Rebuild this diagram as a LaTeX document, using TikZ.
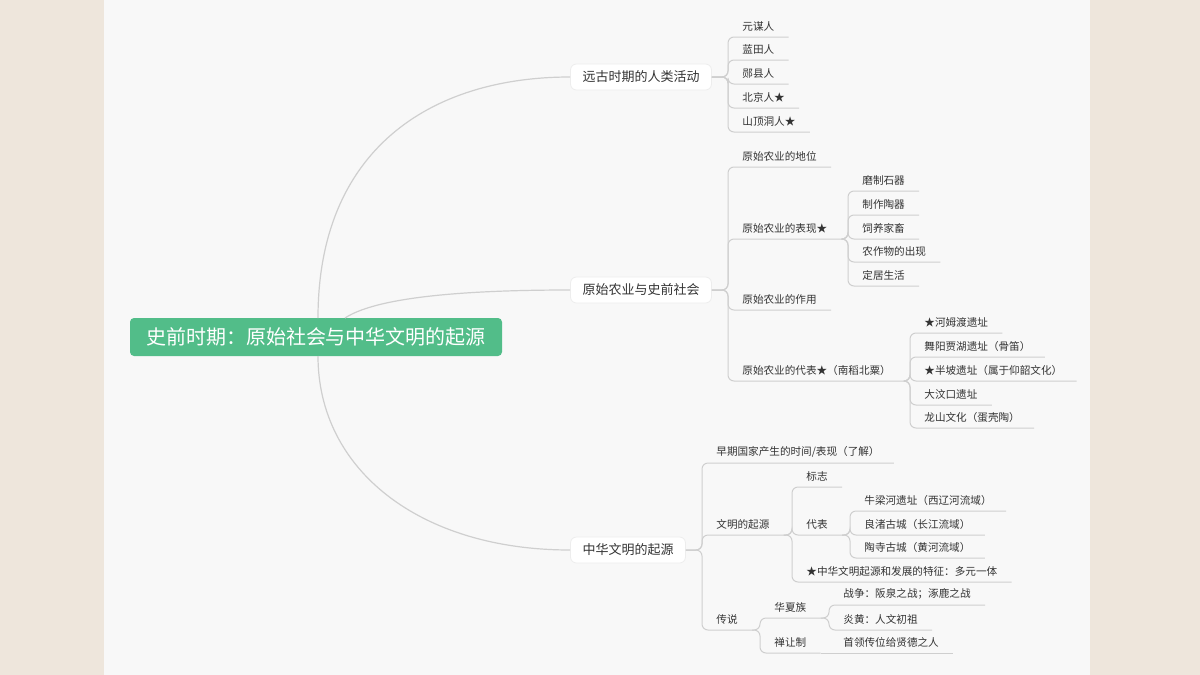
\documentclass[tikz,border=0pt]{standalone}
\usepackage{fontspec}
\setmainfont{Noto Sans CJK SC}
\usetikzlibrary{positioning}
\definecolor{pagebg}{HTML}{EEE6DC}
\definecolor{panelbg}{HTML}{F8F8F8}
\definecolor{rootgreen}{HTML}{52BD89}
\definecolor{linegray}{HTML}{CFCFCF}
\definecolor{textgray}{HTML}{333333}
\tikzset{
  root/.style={fill=rootgreen,text=white,rounded corners=2pt,minimum height=19pt,inner xsep=8pt,font=\fontsize{10pt}{12pt}\selectfont},
  topic/.style={fill=white,draw=black!7,rounded corners=3pt,minimum height=13pt,inner xsep=6pt,text=textgray,font=\fontsize{6.5pt}{8pt}\selectfont},
  leaf/.style={anchor=south west,inner xsep=7pt,inner ysep=2.5pt,text=textgray,font=\fontsize{5.3pt}{6pt}\selectfont},
  link/.style={draw=linegray,line width=0.5pt,rounded corners=3pt},
  bough/.style={draw=linegray,line width=0.6pt}
}
\begin{document}
\begin{tikzpicture}[x=0.5pt,y=-0.5pt]
    % BACKGROUND
    \useasboundingbox (0,0) rectangle (1200,675);
    \fill[pagebg] (0,0) rectangle (1200,675);
    \fill[panelbg] (104,0) rectangle (1090,675);
    % ROOT AND TOPICS
    \node[root] (root) at (316,337) {史前时期：原始社会与中华文明的起源};
    \node[topic] (early) at (641,77) {远古时期的人类活动};
    \node[topic] (farm) at (641,290) {原始农业与史前社会};
    \node[topic] (civ) at (628,550) {中华文明的起源};
    \draw[bough] (318,318) .. controls (318,150) and (430,77) .. (early.west);
    \draw[bough] (345,318) .. controls (380,295) and (480,290) .. (farm.west);
    \draw[bough] (318,356) .. controls (318,470) and (420,550) .. (civ.west);
    % EARLY HUMANS
    \node[leaf] (yuanmou) at (728,37) {元谋人};
    \node[leaf] (lantian) at (728,60) {蓝田人};
    \node[leaf] (yunxian) at (728,84) {郧县人};
    \node[leaf] (beijing) at (728,108) {北京人★};
    \node[leaf] (shanding) at (728,132) {山顶洞人★};
    \foreach \n in {yuanmou,lantian,yunxian,beijing,shanding}
      \draw[link] (early.east) -- (728,77) |- (\n.south east);
    % PRIMITIVE FARMING
    \node[leaf] (status) at (728,167) {原始农业的地位};
    \node[leaf] (signs) at (728,239) {原始农业的表现★};
    \node[leaf] (role) at (728,310) {原始农业的作用};
    \node[leaf] (sites) at (728,381) {原始农业的代表★（南稻北粟）};
    \foreach \n in {status,signs,role,sites}
      \draw[link] (farm.east) -- (728,290) |- (\n.south east);
    \node[leaf] (stone) at (848,191) {磨制石器};
    \node[leaf] (pottery) at (848,215) {制作陶器};
    \node[leaf] (livestock) at (848,239) {饲养家畜};
    \node[leaf] (crops) at (848,262) {农作物的出现};
    \node[leaf] (settle) at (848,286) {定居生活};
    \foreach \n in {stone,pottery,livestock,crops,settle}
      \draw[link] (signs.south east) -- (848,239) |- (\n.south east);
    \node[leaf] (hemudu) at (910,333) {★河姆渡遗址};
    \node[leaf] (jiahu) at (910,357) {舞阳贾湖遗址（骨笛）};
    \node[leaf] (banpo) at (910,381) {★半坡遗址（属于仰韶文化）};
    \node[leaf] (dawenkou) at (910,405) {大汶口遗址};
    \node[leaf] (longshan) at (910,428) {龙山文化（蛋壳陶）};
    \foreach \n in {hemudu,jiahu,banpo,dawenkou,longshan}
      \draw[link] (sites.south east) -- (910,381) |- (\n.south east);
    % CIVILISATION
    \node[leaf] (state) at (702,463) {早期国家产生的时间/表现（了解）};
    \node[leaf] (origin) at (702,535) {文明的起源};
    \node[leaf] (legend) at (702,630) {传说};
    \foreach \n in {state,origin,legend}
      \draw[link] (civ.east) -- (702,550) |- (\n.south east);
    \node[leaf] (mark) at (792,487) {标志};
    \node[leaf] (repr) at (792,535) {代表};
    \node[leaf] (feature) at (792,582) {★中华文明起源和发展的特征：多元一体};
    \foreach \n in {mark,repr,feature}
      \draw[link] (origin.south east) -- (792,535) |- (\n.south east);
    \node[leaf] (niuliang) at (850,511) {牛梁河遗址（西辽河流域）};
    \node[leaf] (liangzhu) at (850,535) {良渚古城（长江流域）};
    \node[leaf] (taosi) at (850,558) {陶寺古城（黄河流域）};
    \foreach \n in {niuliang,liangzhu,taosi}
      \draw[link] (repr.south east) -- (850,535) |- (\n.south east);
    \node[leaf] (huaxia) at (760,618) {华夏族};
    \node[leaf] (shanrang) at (760,653) {禅让制};
    \foreach \n in {huaxia,shanrang}
      \draw[link] (legend.south east) -- (760,630) |- (\n.south east);
    \node[leaf] (war) at (829,605) {战争：阪泉之战；涿鹿之战};
    \node[leaf] (yanhuang) at (829,630) {炎黄：人文初祖};
    \foreach \n in {war,yanhuang}
      \draw[link] (huaxia.south east) -- (829,618) |- (\n.south east);
    \node[leaf] (pass) at (829,653) {首领传位给贤德之人};
    \draw[link] (shanrang.south east) -- (pass.south east);
\end{tikzpicture}
\end{document}
